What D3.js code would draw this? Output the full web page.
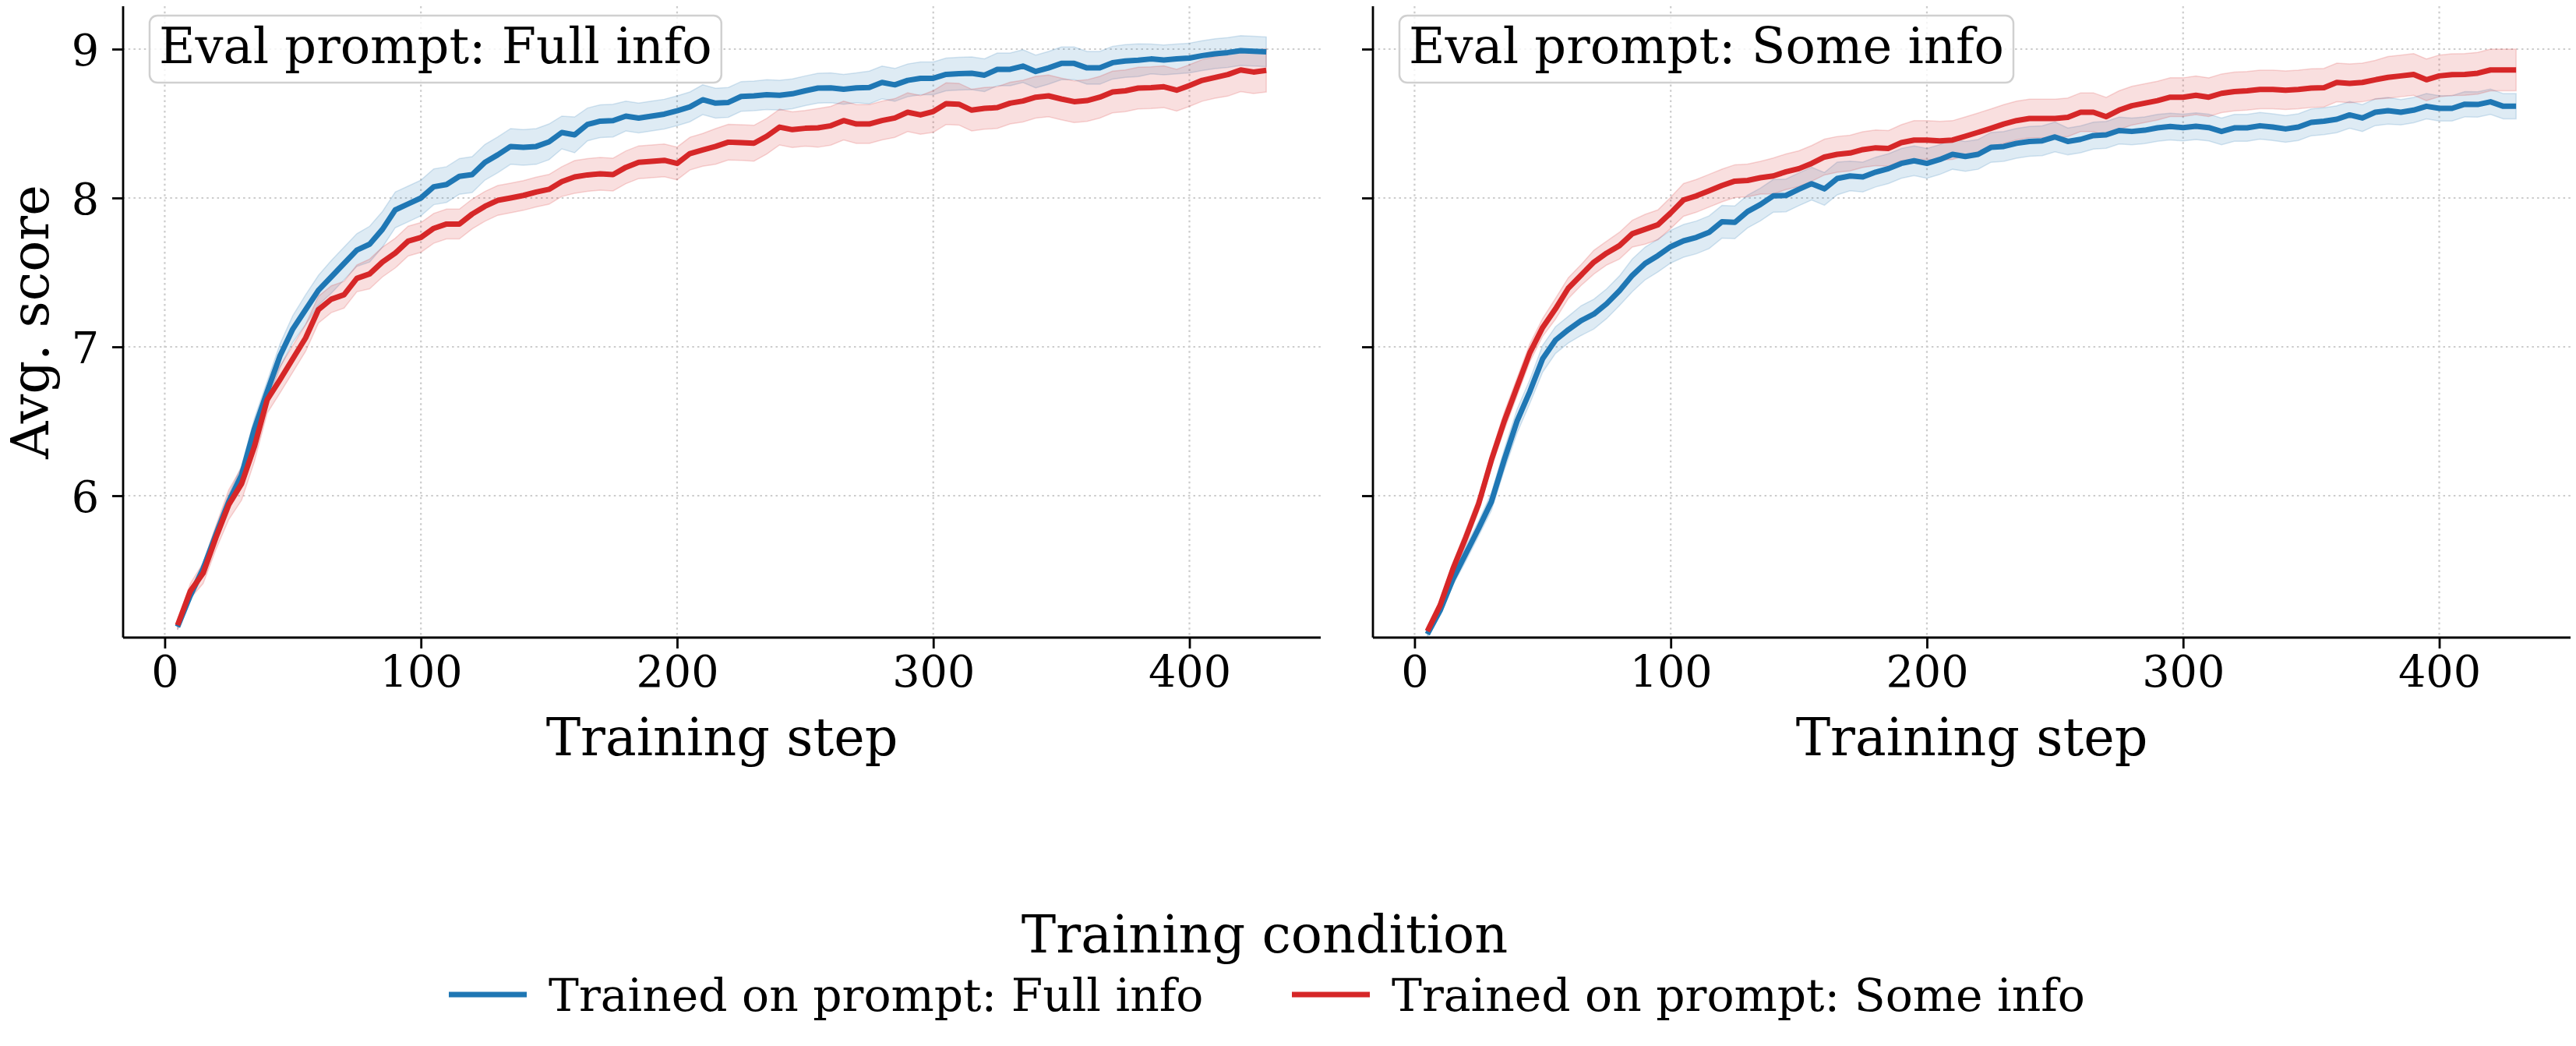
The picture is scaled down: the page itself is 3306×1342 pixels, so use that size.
<!DOCTYPE html>
<html>
<head>
<meta charset="utf-8">
<script src="https://cdn.jsdelivr.net/npm/d3@7"></script>
<style>
    body { margin: 0; background: #fff; }
    text { font-family: "DejaVu Serif", serif; fill: #000; }
</style>
</head>
<body>
<svg id="canvas"></svg>
<script>
// training steps (x values)
const steps = [
    5, 10, 15, 20, 25, 30, 35, 40, 45, 50,
    55, 60, 65, 70, 75, 80, 85, 90, 95, 100,
    105, 110, 115, 120, 125, 130, 135, 140, 145, 150,
    155, 160, 165, 170, 175, 180, 185, 190, 195, 200,
    205, 210, 215, 220, 225, 230, 235, 240, 245, 250,
    255, 260, 265, 270, 275, 280, 285, 290, 295, 300,
    305, 310, 315, 320, 325, 330, 335, 340, 345, 350,
    355, 360, 365, 370, 375, 380, 385, 390, 395, 400,
    405, 410, 415, 420, 425, 430
];

const panelTitles = ["Eval prompt: Full info", "Eval prompt: Some info"];
const conditions = ["Trained on prompt: Full info", "Trained on prompt: Some info"];

// eval prompt: Full info
const fullEvalTrainedFull = [
    5.12, 5.33, 5.51, 5.74, 5.96, 6.14, 6.45, 6.70, 6.94, 7.12,
    7.25, 7.38, 7.47, 7.56, 7.65, 7.69, 7.79, 7.92, 7.96, 8.00,
    8.075, 8.09, 8.145, 8.157, 8.24, 8.29, 8.346, 8.34, 8.346, 8.377,
    8.44, 8.424, 8.494, 8.516, 8.52, 8.55, 8.537, 8.55, 8.563, 8.586,
    8.612, 8.66, 8.637, 8.642, 8.682, 8.686, 8.694, 8.69, 8.70, 8.72,
    8.738, 8.74, 8.73, 8.74, 8.742, 8.776, 8.76, 8.79, 8.804, 8.804,
    8.83, 8.835, 8.838, 8.825, 8.864, 8.864, 8.886, 8.85, 8.874, 8.904,
    8.904, 8.874, 8.874, 8.909, 8.92, 8.925, 8.934, 8.927, 8.934, 8.94,
    8.956, 8.969, 8.977, 8.99, 8.986, 8.982
];
const fullEvalTrainedFullCI = [
    0.02, 0.03, 0.04, 0.05, 0.05, 0.06, 0.07, 0.07, 0.08, 0.09,
    0.10, 0.10, 0.11, 0.11, 0.11, 0.12, 0.12, 0.12, 0.12, 0.12,
    0.12, 0.12, 0.12, 0.12, 0.12, 0.12, 0.12, 0.12, 0.12, 0.12,
    0.11, 0.12, 0.11, 0.11, 0.11, 0.10, 0.10, 0.10, 0.10, 0.10,
    0.10, 0.10, 0.10, 0.10, 0.10, 0.10, 0.10, 0.10, 0.10, 0.10,
    0.10, 0.10, 0.10, 0.10, 0.11, 0.11, 0.11, 0.11, 0.11, 0.11,
    0.11, 0.11, 0.11, 0.11, 0.11, 0.11, 0.11, 0.11, 0.11, 0.11,
    0.11, 0.11, 0.11, 0.11, 0.11, 0.11, 0.10, 0.10, 0.10, 0.10,
    0.10, 0.10, 0.10, 0.10, 0.10, 0.10
];
const fullEvalTrainedSome = [
    5.13, 5.36, 5.48, 5.72, 5.94, 6.08, 6.33, 6.645, 6.78, 6.92,
    7.06, 7.25, 7.32, 7.35, 7.46, 7.49, 7.57, 7.63, 7.71, 7.735,
    7.796, 7.825, 7.825, 7.892, 7.944, 7.984, 8.00, 8.017, 8.04, 8.058,
    8.11, 8.141, 8.155, 8.162, 8.157, 8.206, 8.24, 8.246, 8.253, 8.232,
    8.298, 8.323, 8.346, 8.375, 8.372, 8.368, 8.415, 8.476, 8.459, 8.468,
    8.471, 8.485, 8.52, 8.497, 8.497, 8.52, 8.537, 8.576, 8.558, 8.581,
    8.633, 8.63, 8.59, 8.602, 8.607, 8.637, 8.651, 8.677, 8.686, 8.665,
    8.647, 8.654, 8.677, 8.712, 8.72, 8.738, 8.741, 8.747, 8.724, 8.755,
    8.79, 8.81, 8.829, 8.86, 8.846, 8.857
];
const fullEvalTrainedSomeCI = [
    0.03, 0.05, 0.07, 0.08, 0.10, 0.11, 0.10, 0.09, 0.09, 0.09,
    0.09, 0.09, 0.09, 0.09, 0.09, 0.10, 0.10, 0.10, 0.10, 0.10,
    0.10, 0.10, 0.10, 0.10, 0.10, 0.10, 0.10, 0.10, 0.10, 0.10,
    0.10, 0.11, 0.11, 0.11, 0.11, 0.11, 0.11, 0.11, 0.11, 0.11,
    0.11, 0.11, 0.12, 0.12, 0.12, 0.12, 0.12, 0.12, 0.12, 0.12,
    0.13, 0.13, 0.13, 0.13, 0.13, 0.13, 0.13, 0.13, 0.13, 0.14,
    0.14, 0.14, 0.14, 0.14, 0.14, 0.14, 0.14, 0.14, 0.14, 0.14,
    0.14, 0.14, 0.14, 0.14, 0.14, 0.14, 0.14, 0.14, 0.14, 0.14,
    0.14, 0.14, 0.145, 0.145, 0.145, 0.145
];

// eval prompt: Some info
const someEvalTrainedFull = [
    5.07, 5.23, 5.44, 5.61, 5.78, 5.96, 6.24, 6.50, 6.70, 6.92,
    7.045, 7.115, 7.176, 7.22, 7.29, 7.377, 7.48, 7.56, 7.613, 7.673,
    7.712, 7.735, 7.77, 7.84, 7.836, 7.909, 7.956, 8.014, 8.017, 8.058,
    8.096, 8.061, 8.131, 8.148, 8.141, 8.174, 8.197, 8.232, 8.25, 8.232,
    8.258, 8.293, 8.279, 8.293, 8.34, 8.346, 8.367, 8.38, 8.384, 8.41,
    8.38, 8.394, 8.419, 8.424, 8.453, 8.447, 8.455, 8.471, 8.48, 8.473,
    8.482, 8.473, 8.447, 8.471, 8.471, 8.485, 8.476, 8.464, 8.476, 8.508,
    8.516, 8.529, 8.558, 8.537, 8.576, 8.586, 8.576, 8.59, 8.616, 8.602,
    8.602, 8.63, 8.628, 8.646, 8.616, 8.616
];
const someEvalTrainedFullCI = [
    0.02, 0.03, 0.04, 0.05, 0.05, 0.06, 0.07, 0.08, 0.08, 0.09,
    0.09, 0.09, 0.10, 0.10, 0.10, 0.10, 0.11, 0.11, 0.11, 0.11,
    0.11, 0.11, 0.11, 0.11, 0.11, 0.11, 0.11, 0.11, 0.11, 0.11,
    0.11, 0.11, 0.11, 0.10, 0.10, 0.10, 0.10, 0.10, 0.10, 0.10,
    0.10, 0.10, 0.10, 0.10, 0.10, 0.10, 0.10, 0.10, 0.10, 0.10,
    0.09, 0.09, 0.09, 0.09, 0.09, 0.09, 0.09, 0.09, 0.09, 0.09,
    0.09, 0.09, 0.09, 0.09, 0.09, 0.09, 0.09, 0.09, 0.09, 0.09,
    0.09, 0.09, 0.09, 0.09, 0.09, 0.09, 0.085, 0.085, 0.085, 0.085,
    0.085, 0.085, 0.085, 0.085, 0.085, 0.085
];
const someEvalTrainedSome = [
    5.09, 5.265, 5.51, 5.72, 5.945, 6.24, 6.50, 6.73, 6.96, 7.13,
    7.255, 7.394, 7.482, 7.569, 7.63, 7.68, 7.76, 7.79, 7.82, 7.90,
    7.987, 8.014, 8.049, 8.084, 8.113, 8.118, 8.136, 8.148, 8.176, 8.197,
    8.232, 8.275, 8.293, 8.302, 8.325, 8.337, 8.333, 8.372, 8.389, 8.389,
    8.384, 8.389, 8.415, 8.441, 8.468, 8.497, 8.52, 8.534, 8.534, 8.534,
    8.542, 8.576, 8.576, 8.546, 8.59, 8.62, 8.637, 8.654, 8.677, 8.677,
    8.69, 8.677, 8.703, 8.715, 8.72, 8.729, 8.729, 8.724, 8.729, 8.738,
    8.741, 8.776, 8.77, 8.776, 8.794, 8.81, 8.82, 8.83, 8.794, 8.82,
    8.829, 8.83, 8.838, 8.86, 8.86, 8.86
];
const someEvalTrainedSomeCI = [
    0.02, 0.03, 0.04, 0.05, 0.05, 0.05, 0.06, 0.06, 0.06, 0.06,
    0.07, 0.07, 0.07, 0.08, 0.08, 0.09, 0.09, 0.10, 0.10, 0.105,
    0.11, 0.11, 0.11, 0.11, 0.11, 0.11, 0.11, 0.12, 0.12, 0.12,
    0.12, 0.12, 0.12, 0.12, 0.12, 0.12, 0.12, 0.12, 0.13, 0.13,
    0.13, 0.13, 0.13, 0.13, 0.13, 0.13, 0.13, 0.13, 0.13, 0.13,
    0.13, 0.13, 0.13, 0.13, 0.13, 0.13, 0.13, 0.13, 0.13, 0.13,
    0.13, 0.13, 0.13, 0.13, 0.13, 0.13, 0.13, 0.13, 0.13, 0.13,
    0.13, 0.13, 0.13, 0.13, 0.13, 0.14, 0.14, 0.14, 0.14, 0.14,
    0.14, 0.14, 0.14, 0.14, 0.14, 0.14
];

const xTicks = [0, 100, 200, 300, 400];
const yTicks = [6, 7, 8, 9];

const width = 3306;
const height = 1342;
const svg = d3.select("#canvas").attr("width", width).attr("height", height);

// panel boxes (pixels)
const plotTop = 8;
const plotBottom = 818;
const panelLeft = [158, 1762];
const panelWidth = 1537;

const color = d3.scaleOrdinal().domain(conditions).range(["#1f77b4", "#d62728"]);

const yScale = d3.scaleLinear()
    .domain([5.047, 9.288])
    .range([plotBottom, plotTop]);

const panelSeries = [
    [
        { key: conditions[0], values: fullEvalTrainedFull, ci: fullEvalTrainedFullCI },
        { key: conditions[1], values: fullEvalTrainedSome, ci: fullEvalTrainedSomeCI }
    ],
    [
        { key: conditions[0], values: someEvalTrainedFull, ci: someEvalTrainedFullCI },
        { key: conditions[1], values: someEvalTrainedSome, ci: someEvalTrainedSomeCI }
    ]
];

const tickSize = 55.6;

panelSeries.forEach((series, p) => {
    const left = panelLeft[p];
    const xScale = d3.scaleLinear()
        .domain([-16.25, 451.25]) // matplotlib-ish 5% margins around 5..430
        .range([left, left + panelWidth]);

    const g = svg.append("g");

    // grid, dotted light gray
    g.append("g").selectAll("line")
        .data(xTicks)
        .join("line")
        .attr("x1", d => xScale(d)).attr("x2", d => xScale(d))
        .attr("y1", plotTop).attr("y2", plotBottom)
        .attr("stroke", "#cccccc")
        .attr("stroke-width", 2.2)
        .attr("stroke-dasharray", "2.5 4.2");
    g.append("g").selectAll("line")
        .data(yTicks)
        .join("line")
        .attr("x1", left).attr("x2", left + panelWidth)
        .attr("y1", d => yScale(d)).attr("y2", d => yScale(d))
        .attr("stroke", "#cccccc")
        .attr("stroke-width", 2.2)
        .attr("stroke-dasharray", "2.5 4.2");

    const rows = series.map(s => ({
        key: s.key,
        pts: steps.map((st, i) => ({ step: st, v: s.values[i], ci: s.ci[i] }))
    }));

    const band = d3.area()
        .x(d => xScale(d.step))
        .y0(d => yScale(d.v - d.ci))
        .y1(d => yScale(d.v + d.ci));

    const line = d3.line()
        .x(d => xScale(d.step))
        .y(d => yScale(d.v));

    // bands first
    g.append("g").selectAll("path")
        .data(rows)
        .join("path")
        .attr("d", d => band(d.pts))
        .attr("fill", d => color(d.key))
        .attr("fill-opacity", 0.15)
        .attr("stroke", d => color(d.key))
        .attr("stroke-opacity", 0.18)
        .attr("stroke-width", 1.5);

    g.append("g").selectAll("path")
        .data(rows)
        .join("path")
        .attr("d", d => line(d.pts))
        .attr("fill", "none")
        .attr("stroke", d => color(d.key))
        .attr("stroke-width", 7)
        .attr("stroke-linejoin", "round");

    // axes
    const xAxis = g.append("g")
        .attr("transform", `translate(0,${plotBottom})`)
        .call(d3.axisBottom(xScale).tickValues(xTicks).tickSize(14).tickPadding(10).tickFormat(d3.format("d")));
    xAxis.select(".domain").attr("d", `M${left},0H${left + panelWidth}`);

    const yAxis = g.append("g")
        .attr("transform", `translate(${left},0)`)
        .call(d3.axisLeft(yScale).tickValues(yTicks).tickSize(14).tickPadding(17).tickFormat(p === 0 ? d3.format("d") : () => ""));
    yAxis.select(".domain").attr("d", `M0,${plotTop}V${plotBottom}`);

    [xAxis, yAxis].forEach(ax => {
        ax.select(".domain").attr("stroke", "#000").attr("stroke-width", 2.8);
        ax.selectAll(".tick line").attr("stroke", "#000").attr("stroke-width", 2.8);
        ax.selectAll(".tick text")
            .attr("font-family", "DejaVu Serif")
            .attr("font-size", tickSize)
            .attr("fill", "#000");
    });
    yAxis.selectAll(".tick text").attr("dy", "0.36em");

    // x label
    g.append("text")
        .attr("x", left + panelWidth / 2)
        .attr("y", 969)
        .attr("text-anchor", "middle")
        .attr("font-size", 66.7)
        .text("Training step");

    // panel title box, top-left
    const boxX = left + 34;
    const title = g.append("text")
        .attr("x", boxX + 12)
        .attr("y", 81)
        .attr("font-size", 63.8)
        .text(panelTitles[p]);
    const tw = title.node().getComputedTextLength();
    g.append("rect")
        .attr("x", boxX)
        .attr("y", 20)
        .attr("width", tw + 24)
        .attr("height", 86)
        .attr("rx", 10)
        .attr("fill", "#fff")
        .attr("fill-opacity", 0.8)
        .attr("stroke", "#d0d0d0")
        .attr("stroke-width", 2.5);
    title.raise();
});

// y label
svg.append("text")
    .attr("transform", `translate(62,${(plotTop + plotBottom) / 2}) rotate(-90)`)
    .attr("text-anchor", "middle")
    .attr("font-size", 66.7)
    .text("Avg. score");

// legend at the bottom
const legendCenter = 1623;
svg.append("text")
    .attr("x", legendCenter)
    .attr("y", 1222)
    .attr("text-anchor", "middle")
    .attr("font-size", 66.7)
    .text("Training condition");

const legendX = [576, 1658];
conditions.forEach((c, i) => {
    svg.append("line")
        .attr("x1", legendX[i]).attr("x2", legendX[i] + 100)
        .attr("y1", 1276).attr("y2", 1276)
        .attr("stroke", color(c))
        .attr("stroke-width", 7);
    svg.append("text")
        .attr("x", legendX[i] + 128)
        .attr("y", 1297)
        .attr("font-size", 58.3)
        .text(c);
});
</script>
</body>
</html>
